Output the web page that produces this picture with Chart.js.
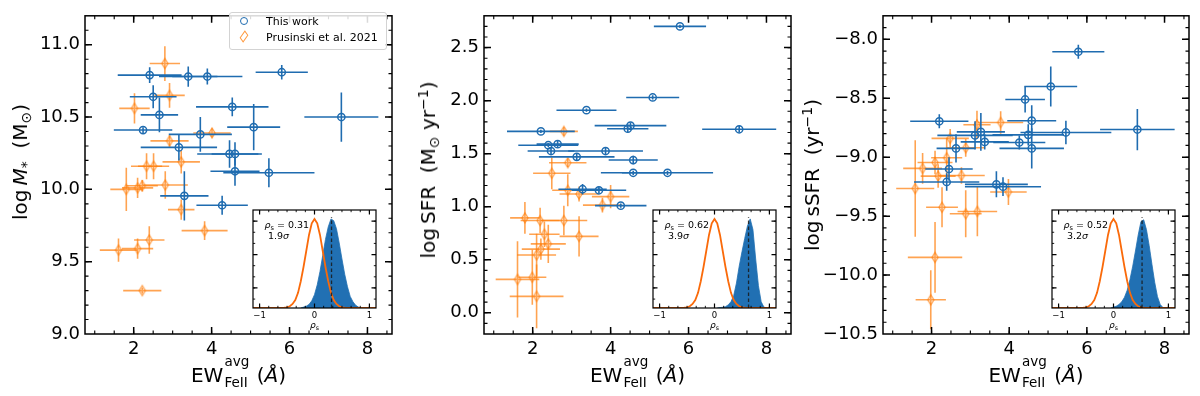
<!DOCTYPE html>
<html><head><meta charset="utf-8">
<script src="https://cdn.jsdelivr.net/npm/chart.js@4.4.1/dist/chart.umd.min.js"></script>
<style>
html,body{margin:0;padding:0;background:#fff;}
#wrap{position:relative;width:1200px;height:396px;overflow:hidden;font-family:"DejaVu Sans",sans-serif;color:#000;}
canvas{position:absolute;top:0;}
.yt{position:absolute;transform:translate(-50%,-50%) rotate(-90deg);white-space:nowrap;font-size:20px;line-height:24px;}
.xt{position:absolute;transform:translateX(-50%);white-space:nowrap;font-size:20px;line-height:24px;}
.ss{display:inline-block;position:relative;width:26px;height:0;font-size:13.5px;line-height:13.5px;margin-left:1px;}
.ss span{position:absolute;left:0;white-space:nowrap;}
sub{font-size:0.7em;vertical-align:-0.25em;line-height:0;}
sup{font-size:0.7em;vertical-align:0.5em;line-height:0;}
.ann{position:absolute;font-size:9.5px;line-height:10px;height:10px;white-space:nowrap;}
.ilab{position:absolute;font-size:9px;line-height:10px;white-space:nowrap;transform:translateX(-50%);}
.lg{position:absolute;border:1px solid #d3d3d3;border-radius:3px;background:rgba(255,255,255,0.85);font-size:11px;}
.lg .t{position:absolute;line-height:12px;white-space:nowrap;}
.lg .c{position:absolute;width:6px;height:6px;border:1.5px solid #1f6cb0;border-radius:50%;}
.lg .d{position:absolute;width:4px;height:7px;border:1.4px solid rgba(255,127,14,0.8);transform:rotate(45deg) skew(10deg,10deg);}
</style></head>
<body><div id="wrap">
<canvas id="c1" width="400" height="396" style="left:0px"></canvas>
<canvas id="c2" width="400" height="396" style="left:400px"></canvas>
<canvas id="c3" width="400" height="396" style="left:800px"></canvas>
<canvas id="i1" width="140" height="131" style="left:243px;top:203px"></canvas>
<canvas id="i2" width="140" height="131" style="left:643px;top:203px"></canvas>
<canvas id="i3" width="140" height="131" style="left:1042px;top:203px"></canvas>

<div class="yt" style="left:20px;top:162px">log&thinsp;<i>M</i><sub>*</sub>&nbsp;&nbsp;(M<sub>⊙</sub>)</div>
<div class="yt" style="left:428px;top:170px">log&thinsp;SFR&nbsp;&nbsp;(M<sub>⊙</sub> yr<sup>−1</sup>)</div>
<div class="yt" style="left:812px;top:175px">log&thinsp;sSFR&nbsp;&nbsp;(yr<sup>−1</sup>)</div>

<div class="xt" style="left:238.5px;top:363px">EW<span class="ss"><span style="top:-27px">avg</span><span style="top:-6px">FeII</span></span> (<i>Å</i>)</div>
<div class="xt" style="left:637.5px;top:363px">EW<span class="ss"><span style="top:-27px">avg</span><span style="top:-6px">FeII</span></span> (<i>Å</i>)</div>
<div class="xt" style="left:1036px;top:363px">EW<span class="ss"><span style="top:-27px">avg</span><span style="top:-6px">FeII</span></span> (<i>Å</i>)</div>

<div class="lg" style="left:229px;top:12px;width:156px;height:36px">
  <span class="c" style="left:10px;top:4px"></span><span class="t" style="left:36px;top:3px">This work</span>
  <span class="d" style="left:11px;top:19px"></span><span class="t" style="left:36px;top:19px">Prusinski et al. 2021</span>
</div>
</div>
<script>
// ---------------- DATA ----------------
const xTicks = [2, 4, 6, 8];

// Panel 1 : log M*
const m_yTicks = [9.0, 9.5, 10.0, 10.5, 11.0];
const m_blue_ew   = [2.41, 3.40, 3.89, 5.80, 2.50, 2.66, 4.53, 7.33, 2.24, 5.08, 3.71, 3.16, 4.46, 4.60, 4.60, 5.47, 3.30, 4.27];
const m_blue_ewE  = [0.82, 0.75, 0.90, 0.67, 0.60, 0.48, 0.93, 0.95, 0.75, 0.68, 0.81, 0.98, 0.83, 0.60, 0.63, 1.17, 0.62, 0.66];
const m_blue_val  = [10.79, 10.78, 10.78, 10.81, 10.64, 10.515, 10.57, 10.50, 10.41, 10.43, 10.38, 10.29, 10.245, 10.245, 10.125, 10.115, 9.955, 9.89];
const m_blue_valE = [0.055, 0.07, 0.055, 0.05, 0.08, 0.12, 0.065, 0.17, 0.02, 0.16, 0.12, 0.09, 0.095, 0.08, 0.10, 0.10, 0.17, 0.065];
const m_or_ew     = [2.80, 2.02, 2.92, 4.01, 2.92, 2.33, 2.51, 3.22, 1.81, 2.10, 2.22, 2.81, 3.22, 3.82, 1.61, 2.10, 2.40, 2.22];
const m_or_ewE    = [0.39, 0.39, 0.39, 0.48, 0.49, 0.40, 0.40, 0.48, 0.41, 0.40, 0.40, 0.58, 0.34, 0.59, 0.48, 0.40, 0.39, 0.49];
const m_or_val    = [10.87, 10.56, 10.65, 10.39, 10.335, 10.16, 10.16, 10.19, 10.00, 10.01, 10.025, 10.03, 9.86, 9.715, 9.58, 9.59, 9.65, 9.30];
const m_or_valE   = [0.12, 0.105, 0.085, 0.03, 0.04, 0.09, 0.09, 0.08, 0.15, 0.07, 0.04, 0.095, 0.07, 0.065, 0.08, 0.07, 0.095, 0.02];

// Panel 2 : log SFR
const s_yTicks = [0.0, 0.5, 1.0, 1.5, 2.0, 2.5];
const s_blue_ew   = [5.78, 5.08, 3.38, 4.51, 4.44, 2.21, 7.30, 2.40, 2.64, 2.47, 3.87, 3.13, 4.58, 4.58, 5.46, 3.28, 3.70, 4.26];
const s_blue_ewE  = [0.67, 0.68, 0.77, 0.92, 0.53, 0.87, 0.95, 0.77, 0.54, 0.60, 0.96, 0.97, 0.63, 0.83, 1.17, 0.62, 0.70, 0.66];
const s_blue_val  = [2.70, 2.03, 1.91, 1.765, 1.735, 1.71, 1.73, 1.58, 1.59, 1.525, 1.525, 1.47, 1.44, 1.32, 1.32, 1.165, 1.155, 1.01];
const s_blue_valE = [0.015, 0.02, 0.015, 0.03, 0.035, 0.015, 0.03, 0.02, 0.03, 0.03, 0.03, 0.035, 0.04, 0.02, 0.02, 0.05, 0.03, 0.02];
const s_or_ew     = [2.80, 2.90, 2.49, 2.90, 3.19, 4.00, 3.79, 1.80, 2.19, 2.80, 2.30, 3.19, 2.40, 2.21, 2.10, 1.61, 1.99, 2.10];
const s_or_ewE    = [0.36, 0.48, 0.48, 0.40, 0.50, 0.48, 0.50, 0.38, 0.50, 0.60, 0.39, 0.50, 0.45, 0.49, 0.50, 0.56, 0.36, 0.69];
const s_or_val    = [1.71, 1.415, 1.315, 1.155, 1.12, 1.095, 1.015, 0.895, 0.87, 0.87, 0.74, 0.72, 0.65, 0.60, 0.545, 0.315, 0.335, 0.155];
const s_or_valE   = [0.04, 0.04, 0.15, 0.15, 0.07, 0.11, 0.07, 0.15, 0.12, 0.14, 0.12, 0.19, 0.18, 0.10, 0.20, 0.36, 0.26, 0.30];

// Panel 3 : log sSFR
const ss_yTicks = [-10.5, -10.0, -9.5, -9.0, -8.5, -8.0];
const ss_blue_ew   = [5.78, 5.07, 4.41, 2.20, 4.58, 7.30, 5.46, 4.49, 3.12, 3.27, 3.37, 4.26, 2.63, 4.58, 2.45, 2.39, 3.67, 3.84];
const ss_blue_ewE  = [0.67, 0.68, 0.51, 0.75, 0.63, 0.96, 1.17, 0.92, 0.97, 0.62, 0.62, 0.67, 0.50, 0.83, 0.61, 0.84, 0.81, 0.98];
const ss_blue_val  = [-8.105, -8.40, -8.51, -8.695, -8.69, -8.765, -8.79, -8.81, -8.815, -8.785, -8.87, -8.875, -8.925, -8.925, -9.10, -9.21, -9.23, -9.25];
const ss_blue_valE = [0.06, 0.17, 0.11, 0.06, 0.13, 0.175, 0.10, 0.09, 0.12, 0.16, 0.065, 0.06, 0.12, 0.17, 0.10, 0.075, 0.11, 0.08];
const ss_or_ew     = [3.17, 3.78, 2.48, 2.39, 2.88, 2.09, 1.77, 1.58, 2.17, 2.77, 3.98, 2.27, 2.88, 3.18, 2.09, 1.98];
const ss_or_ewE    = [0.35, 0.58, 0.48, 0.40, 0.49, 0.45, 0.50, 0.49, 0.45, 0.60, 0.47, 0.41, 0.41, 0.51, 0.70, 0.39];
const ss_or_val    = [-8.725, -8.705, -8.84, -9.005, -8.92, -9.045, -9.095, -9.265, -9.16, -9.155, -9.295, -9.425, -9.48, -9.46, -9.85, -10.21];
const ss_or_valE   = [0.12, 0.095, 0.08, 0.17, 0.075, 0.10, 0.13, 0.41, 0.10, 0.07, 0.11, 0.17, 0.20, 0.21, 0.30, 0.25];

// Insets: Spearman rho distributions (normalised heights)
const insetTicks = [-1, 0, 1];
const nullRho  = [-1.12, -0.65, -0.6, -0.55, -0.5, -0.45, -0.4, -0.35, -0.3, -0.25, -0.2, -0.15, -0.1, -0.05, 0, 0.05, 0.1, 0.15, 0.2, 0.25, 0.3, 0.35, 0.4, 0.45, 0.5, 0.55, 0.6, 0.65, 1.12];
const nullDens = [0, 0, 0.001, 0.003, 0.008, 0.02, 0.045, 0.09, 0.17, 0.30, 0.46, 0.64, 0.82, 0.95, 1.0, 0.95, 0.82, 0.64, 0.46, 0.30, 0.17, 0.09, 0.045, 0.02, 0.008, 0.003, 0.001, 0, 0];
const h1Rho  = [-0.25, -0.2, -0.15, -0.1, -0.05, 0, 0.05, 0.1, 0.15, 0.2, 0.25, 0.3, 0.35, 0.4, 0.45, 0.5, 0.55, 0.6, 0.65, 0.7, 0.75, 0.8, 0.85];
const h1Dens = [0, 0.01, 0.02, 0.04, 0.08, 0.15, 0.26, 0.41, 0.59, 0.77, 0.91, 1.0, 0.98, 0.89, 0.73, 0.55, 0.38, 0.24, 0.13, 0.07, 0.03, 0.01, 0];
const h2Rho  = [0.05, 0.1, 0.15, 0.2, 0.25, 0.3, 0.35, 0.4, 0.45, 0.5, 0.55, 0.6, 0.65, 0.7, 0.75, 0.8, 0.85, 0.9, 0.95];
const h2Dens = [0, 0.005, 0.008, 0.015, 0.035, 0.07, 0.14, 0.28, 0.47, 0.63, 0.78, 0.92, 1.0, 0.88, 0.55, 0.25, 0.07, 0.01, 0];
const h3Rho  = [-0.05, 0, 0.05, 0.1, 0.15, 0.2, 0.25, 0.3, 0.35, 0.4, 0.45, 0.5, 0.55, 0.6, 0.65, 0.7, 0.75, 0.8, 0.85, 0.9, 0.95];
const h3Dens = [0, 0.01, 0.02, 0.04, 0.07, 0.12, 0.2, 0.32, 0.47, 0.64, 0.82, 0.97, 0.99, 0.88, 0.70, 0.49, 0.29, 0.13, 0.04, 0.005, 0];
const rhoS      = [0.31, 0.62, 0.52];
const rhoSText  = ['0.31', '0.62', '0.52'];
const sigmaText = ['1.9', '3.9', '3.2'];
const medianTop = 1.02;

// ---------------- STYLE / HELPERS ----------------
const FONT = '"DejaVu Sans", sans-serif';
const BLUE = '#1f6cb0';
const BLUE_FILL = '#2170b3';
const ORANGE = 'rgba(255,127,14,0.72)';
const ORANGE_LINE = '#fa6a0a';
Chart.defaults.font.family = FONT;

const pts = (xs, ys) => xs.map((x, i) => ({x: x, y: ys[i]}));
const range = (a, b, s) => { const r = []; for (let v = a; v <= b + 1e-9; v += s) r.push(+v.toFixed(5)); return r; };
const fmt1 = v => (v < 0 ? '\u2212' : '') + Math.abs(v).toFixed(1);
const fmtI = v => (v < 0 ? '\u2212' : '') + Math.abs(v);

const thinDiamond = (() => {
  const c = document.createElement('canvas'); c.width = 12; c.height = 14;
  const g = c.getContext('2d'); g.strokeStyle = ORANGE; g.lineWidth = 1.4;
  g.beginPath(); g.moveTo(6, 2); g.lineTo(9, 7); g.lineTo(6, 12); g.lineTo(3, 7); g.closePath(); g.stroke();
  return c;
})();

const errorBars = {
  id: 'errbars',
  beforeDatasetDraw(chart, args) {
    const ds = chart.data.datasets[args.index];
    if (!ds.xerr) return;
    const {ctx, chartArea: a} = chart, xs = chart.scales.x, ys = chart.scales.y;
    ctx.save();
    ctx.beginPath(); ctx.rect(a.left, a.top, a.right - a.left, a.bottom - a.top); ctx.clip();
    ctx.strokeStyle = ds.errColor; ctx.lineWidth = 1.6;
    ds.data.forEach((p, i) => {
      const px = xs.getPixelForValue(p.x), py = ys.getPixelForValue(p.y);
      ctx.beginPath();
      ctx.moveTo(xs.getPixelForValue(p.x - ds.xerr[i]), py);
      ctx.lineTo(xs.getPixelForValue(p.x + ds.xerr[i]), py);
      ctx.moveTo(px, ys.getPixelForValue(p.y - ds.yerr[i]));
      ctx.lineTo(px, ys.getPixelForValue(p.y + ds.yerr[i]));
      ctx.stroke();
    });
    ctx.restore();
  }
};

const frame = {
  id: 'frame',
  beforeDraw(chart, args, o) {
    if (!o.bg) return;
    const {ctx, chartArea: a} = chart;
    ctx.save(); ctx.fillStyle = '#fff'; ctx.fillRect(a.left, a.top, a.right - a.left, a.bottom - a.top); ctx.restore();
  },
  afterDatasetsDraw(chart, args, o) {
    const {ctx, chartArea: a} = chart, xs = chart.scales.x, ys = chart.scales.y;
    ctx.save(); ctx.strokeStyle = '#000';
    const tx = (vals, len, lw) => {
      ctx.lineWidth = lw; ctx.beginPath();
      vals.forEach(v => { const p = xs.getPixelForValue(v); if (p < a.left + 0.5 || p > a.right - 0.5) return;
        ctx.moveTo(p, a.bottom); ctx.lineTo(p, a.bottom - len); ctx.moveTo(p, a.top); ctx.lineTo(p, a.top + len); });
      ctx.stroke();
    };
    const ty = (vals, len, lw) => {
      ctx.lineWidth = lw; ctx.beginPath();
      vals.forEach(v => { const p = ys.getPixelForValue(v); if (p < a.top + 0.5 || p > a.bottom - 0.5) return;
        ctx.moveTo(a.left, p); ctx.lineTo(a.left + len, p); ctx.moveTo(a.right, p); ctx.lineTo(a.right - len, p); });
      ctx.stroke();
    };
    tx(o.minorX, o.minLen, o.lw * 0.75); tx(o.majorX, o.majLen, o.lw);
    ty(o.minorY, o.minLen, o.lw * 0.75); ty(o.majorY, o.majLen, o.lw);
    ctx.lineWidth = o.lw; ctx.strokeRect(a.left, a.top, a.right - a.left, a.bottom - a.top);
    ctx.restore();
  }
};

function makeMain(id, p) {
  return new Chart(document.getElementById(id), {
    type: 'scatter',
    data: {datasets: [
      {label: 'This work', data: pts(p.bx, p.by), xerr: p.bxe, yerr: p.bye, errColor: BLUE,
       pointStyle: 'circle', pointRadius: 3.6, pointBorderWidth: 1.5, borderColor: BLUE, backgroundColor: 'rgba(0,0,0,0)'},
      {label: 'Prusinski et al. 2021', data: pts(p.ox, p.oy), xerr: p.oxe, yerr: p.oye, errColor: ORANGE,
       pointStyle: thinDiamond, pointRadius: 5, borderColor: ORANGE, backgroundColor: 'rgba(0,0,0,0)'}
    ]},
    options: {
      responsive: false, animation: false, devicePixelRatio: 1,
      layout: {padding: {top: 7, right: p.padR, bottom: 0, left: 0}},
      plugins: {legend: {display: false}, tooltip: {enabled: false},
        frame: {majorX: xTicks, minorX: range(1, 8.5, 0.5), majorY: p.yTicks, minorY: range(p.ymin, p.ymax, 0.1), majLen: 7, minLen: 3.5, lw: 1.5, bg: false}},
      scales: {
        x: {type: 'linear', min: 0.75, max: 8.63, grid: {display: false, drawTicks: false}, border: {display: false},
            ticks: {font: {family: FONT, size: 18}, color: '#000', padding: 5, maxRotation: 0, autoSkip: false, callback: v => fmtI(v)},
            afterBuildTicks: s => { s.ticks = xTicks.map(v => ({value: v})); },
            afterFit: s => { s.height = 62; }},
        y: {type: 'linear', min: p.ymin, max: p.ymax, grid: {display: false, drawTicks: false}, border: {display: false},
            ticks: {font: {family: FONT, size: 18}, color: '#000', padding: 5, autoSkip: false, callback: v => fmt1(v)},
            afterBuildTicks: s => { s.ticks = p.yTicks.map(v => ({value: v})); },
            afterFit: s => { s.width = p.L; }}
      }
    },
    plugins: [errorBars, frame]
  });
}

function makeInset(id, k, hRho, hDens) {
  const el = document.getElementById(id);
  const ch = new Chart(el, {
    type: 'scatter',
    data: {datasets: [
      {data: [{x: rhoS[k], y: 0}, {x: rhoS[k], y: medianTop}], showLine: true, borderColor: 'rgba(25,25,25,0.85)', borderDash: [3.5, 2.5], borderWidth: 1.3, pointRadius: 0},
      {data: pts(nullRho, nullDens), showLine: true, borderColor: ORANGE_LINE, borderWidth: 1.8, pointRadius: 0, fill: false},
      {data: pts(hRho, hDens), showLine: true, borderColor: BLUE_FILL, backgroundColor: BLUE_FILL, borderWidth: 0.8, pointRadius: 0, fill: 'origin'}
    ]},
    options: {
      responsive: false, animation: false, devicePixelRatio: 1,
      layout: {padding: {top: 7, right: 7, bottom: 0, left: 10}},
      plugins: {legend: {display: false}, tooltip: {enabled: false},
        frame: {majorX: insetTicks, minorX: range(-1, 1, 1 / 6), majorY: [0.225, 0.6, 0.975], minorY: range(0.1, 1.05, 0.125), majLen: 4.5, minLen: 2.2, lw: 1.2, bg: true}},
      scales: {
        x: {type: 'linear', min: -1.12, max: 1.12, grid: {display: false, drawTicks: false}, border: {display: false},
            ticks: {font: {family: FONT, size: 8.5}, color: '#000', padding: 3, maxRotation: 0, autoSkip: false, callback: v => fmtI(v)},
            afterBuildTicks: s => { s.ticks = insetTicks.map(v => ({value: v})); },
            afterFit: s => { s.height = 26; }},
        y: {type: 'linear', display: false, min: 0, max: 1.1}
      }
    },
    plugins: [frame]
  });
  // annotations placed relative to the inset axes
  const a = ch.chartArea, L = parseFloat(el.style.left), T = parseFloat(el.style.top);
  const wrap = document.getElementById('wrap');
  const d1 = document.createElement('div'); d1.className = 'ann';
  d1.innerHTML = '<i>ρ</i><sub>s</sub> = ' + rhoSText[k];
  d1.style.left = (L + a.left + 11.5) + 'px'; d1.style.top = (T + a.top + 10) + 'px';
  const d2 = document.createElement('div'); d2.className = 'ann';
  d2.innerHTML = sigmaText[k] + '<i>σ</i>';
  d2.style.left = (L + a.left + 15) + 'px'; d2.style.top = (T + a.top + 20.5) + 'px';
  const d3 = document.createElement('div'); d3.className = 'ilab';
  d3.innerHTML = '<i>ρ</i><sub>s</sub>';
  d3.style.left = (L + ch.scales.x.getPixelForValue(0)) + 'px'; d3.style.top = (T + a.bottom + 12) + 'px';
  wrap.appendChild(d1); wrap.appendChild(d2); wrap.appendChild(d3);
  return ch;
}

makeMain('c1', {bx: m_blue_ew, bxe: m_blue_ewE, by: m_blue_val, bye: m_blue_valE,
  ox: m_or_ew, oxe: m_or_ewE, oy: m_or_val, oye: m_or_valE, yTicks: m_yTicks, ymin: 9.0, ymax: 11.2, L: 85, padR: 8});
makeMain('c2', {bx: s_blue_ew, bxe: s_blue_ewE, by: s_blue_val, bye: s_blue_valE,
  ox: s_or_ew, oxe: s_or_ewE, oy: s_or_val, oye: s_or_valE, yTicks: s_yTicks, ymin: -0.2, ymax: 2.8, L: 84, padR: 9});
makeMain('c3', {bx: ss_blue_ew, bxe: ss_blue_ewE, by: ss_blue_val, bye: ss_blue_valE,
  ox: ss_or_ew, oxe: ss_or_ewE, oy: ss_or_val, oye: ss_or_valE, yTicks: ss_yTicks, ymin: -10.5, ymax: -7.8, L: 83, padR: 11});

makeInset('i1', 0, h1Rho, h1Dens);
makeInset('i2', 1, h2Rho, h2Dens);
makeInset('i3', 2, h3Rho, h3Dens);
</script>
</body></html>
